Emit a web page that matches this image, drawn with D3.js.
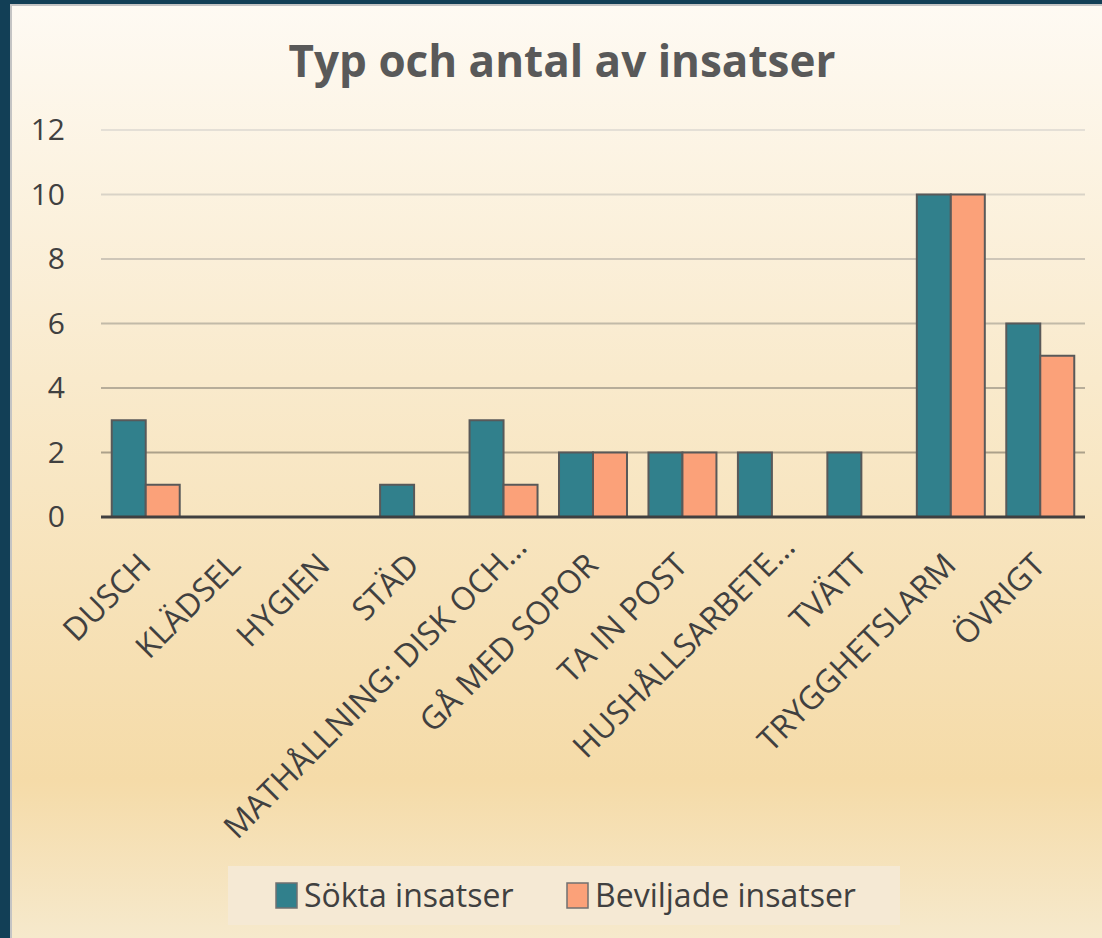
<!DOCTYPE html>
<html>
<head>
<meta charset="utf-8">
<script src="https://cdn.jsdelivr.net/npm/d3@7"></script>
<style>
  body { margin: 0; background: #123f56; }
  svg { display: block; }
</style>
</head>
<body>
<div id="chart"></div>
<script>
// data
const categories = ["DUSCH", "KLÄDSEL", "HYGIEN", "STÄD", "MATHÅLLNING: DISK OCH…", "GÅ MED SOPOR",
  "TA IN POST", "HUSHÅLLSARBETE…", "TVÄTT", "TRYGGHETSLARM", "ÖVRIGT"];
const seriesNames = ["Sökta insatser", "Beviljade insatser"];
const soktaValues = [3, 0, 0, 1, 3, 2, 2, 2, 2, 10, 6];
const beviljadeValues = [1, 0, 0, 0, 1, 2, 2, 0, 0, 10, 5];
const yTicks = [0, 2, 4, 6, 8, 10, 12];

const W = 1102, H = 938;
const colors = ["#31808c", "#fba179"];
const font = "'Open Sans', sans-serif";

const svg = d3.select("#chart").append("svg")
  .attr("width", W)
  .attr("height", H);

// background gradient
const grad = svg.append("defs").append("linearGradient")
  .attr("id", "bg").attr("x1", 0).attr("y1", 0).attr("x2", 0).attr("y2", 1);
[["0%", "#fefaf3"], ["40%", "#f9eacc"], ["83%", "#f5dba8"], ["100%", "#f6e9cc"]].forEach(s => {
  grad.append("stop").attr("offset", s[0]).attr("stop-color", s[1]);
});

// frame
svg.append("rect").attr("width", W).attr("height", H).attr("fill", "#123f56");
svg.append("rect").attr("x", 10).attr("y", 4).attr("width", W - 10).attr("height", H - 4).attr("fill", "#c4c4c4");
svg.append("rect").attr("x", 12).attr("y", 6).attr("width", W - 12).attr("height", H - 6).attr("fill", "url(#bg)");

// title
svg.append("text")
  .attr("x", 562)
  .attr("y", 77)
  .attr("text-anchor", "middle")
  .style("font-family", font)
  .style("font-weight", "bold")
  .style("font-size", "44px")
  .style("fill", "#595959")
  .text("Typ och antal av insatser");

// scales
const x = d3.scaleBand().domain(categories).range([101, 1085]).paddingInner(0.24).paddingOuter(0.12);
const xSub = d3.scaleBand().domain(seriesNames).range([0, x.bandwidth()]);
const y = d3.scaleLinear().domain([0, 12]).range([517, 130]);

// gridlines, they get darker toward the bottom
const gridColor = d3.scaleLinear().domain([12, 2]).range(["#e4dfd6", "#aca18a"]);
svg.append("g")
  .selectAll("line")
  .data(yTicks.filter(d => d > 0))
  .join("line")
  .attr("x1", 101).attr("x2", 1085)
  .attr("y1", d => y(d)).attr("y2", d => y(d))
  .attr("stroke", d => gridColor(d))
  .attr("stroke-width", 2);

// y axis labels
const yAxis = svg.append("g")
  .attr("transform", "translate(80,0)")
  .call(d3.axisLeft(y).tickValues(yTicks).tickSize(0).tickPadding(0));
yAxis.select(".domain").remove();
yAxis.selectAll("text")
  .style("font-family", font)
  .style("font-size", "30px")
  .style("fill", "#404040")
  .attr("x", -15);

// bars
const rows = categories.map((c, i) => ({ cat: c, vals: [soktaValues[i], beviljadeValues[i]] }));
const groups = svg.append("g").selectAll("g")
  .data(rows)
  .join("g")
  .attr("transform", d => `translate(${x(d.cat)},0)`);

groups.selectAll("rect")
  .data(d => d.vals.map((v, j) => ({ v, name: seriesNames[j], j })).filter(e => e.v > 0))
  .join("rect")
  .attr("x", d => xSub(d.name))
  .attr("width", xSub.bandwidth())
  .attr("y", d => y(d.v))
  .attr("height", d => y(0) - y(d.v))
  .attr("fill", d => colors[d.j])
  .attr("stroke", "#595959")
  .attr("stroke-width", 2);

// x axis line
svg.append("line")
  .attr("x1", 101).attr("x2", 1085)
  .attr("y1", y(0)).attr("y2", y(0))
  .attr("stroke", "#404040")
  .attr("stroke-width", 3);

// category labels, rotated; truncated ones (…) hang a bit further out
svg.append("g").selectAll("text")
  .data(categories)
  .join("text")
  .attr("transform", d => {
    const shift = d.endsWith("…") ? 18 : 0;
    return `translate(${x(d) + x.bandwidth() / 2 + 7 + shift},${567 - shift}) rotate(-45)`;
  })
  .attr("text-anchor", "end")
  .style("font-family", font)
  .style("font-size", "32px")
  .style("fill", "#404040")
  .text(d => d);

// legend
const legend = svg.append("g");
legend.append("rect")
  .attr("x", 228).attr("y", 866)
  .attr("width", 672).attr("height", 59)
  .attr("fill", "#f5e9d4");

const legendX = [276, 567];
seriesNames.forEach((name, i) => {
  legend.append("rect")
    .attr("x", legendX[i]).attr("y", 883)
    .attr("width", 21).attr("height", 25)
    .attr("fill", colors[i])
    .attr("stroke", "#707070")
    .attr("stroke-width", 1.5);
  legend.append("text")
    .attr("x", legendX[i] + 28).attr("y", 907)
    .style("font-family", font)
    .style("font-size", "32px")
    .style("fill", "#404040")
    .text(name);
});
</script>
</body>
</html>
